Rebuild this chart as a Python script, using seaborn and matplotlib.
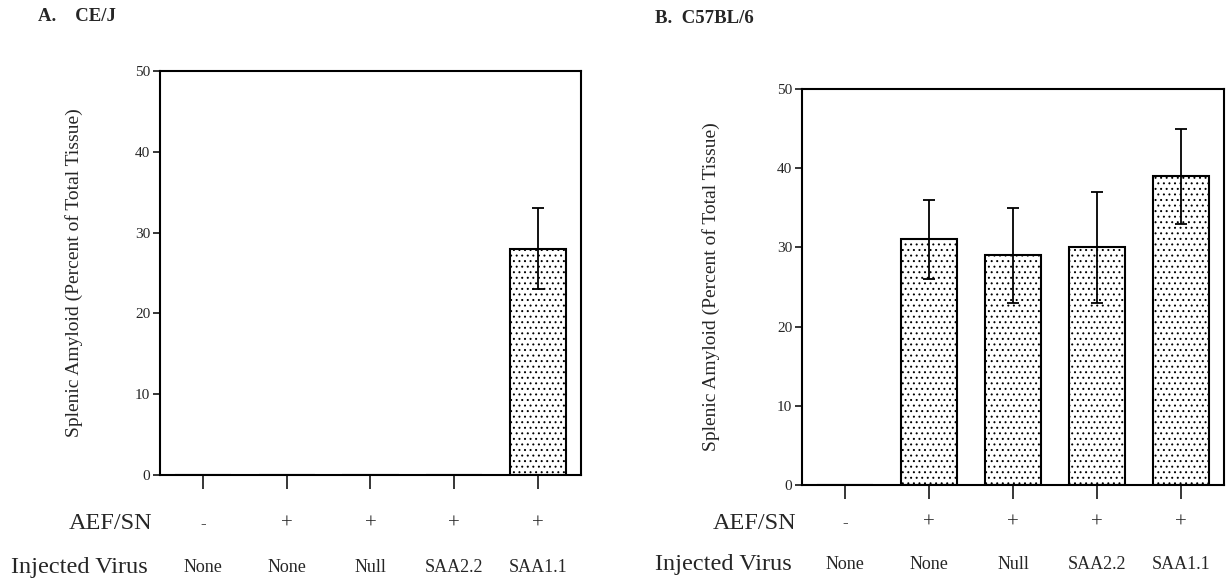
import numpy as np
import pandas as pd
import matplotlib
matplotlib.use("Agg")
import matplotlib.pyplot as plt
import matplotlib.transforms as mtrans
import seaborn as sns

# ── Data ─────────────────────────────────────────────────────
virus = ["None", "None", "Null", "SAA2.2", "SAA1.1"]
aef_sn = ["-", "+", "+", "+", "+"]

cej_mean = [0, 0, 0, 0, 28]
cej_err = [np.nan, np.nan, np.nan, np.nan, 5]

c57_mean = [0, 31, 29, 30, 39]
c57_err = [np.nan, 5, 6, 7, 6]

y_ticks = [0, 10, 20, 30, 40, 50]
y_label = "Splenic Amyloid (Percent of Total Tissue)"

# ── Style ────────────────────────────────────────────────────
sns.set_theme(style="ticks")
plt.rcParams["font.family"] = ["Liberation Serif", "DejaVu Serif"]
plt.rcParams["hatch.linewidth"] = 0.7
plt.rcParams["hatch.color"] = "black"

fig = plt.figure(figsize=(12.26, 5.80), dpi=100)

# axes rects in figure fraction (left, bottom, width, height)
ax_a = fig.add_axes([0.1305, 0.181, 0.3434, 0.6966])
ax_b = fig.add_axes([0.6542, 0.1638, 0.3442, 0.6828])


def draw_panel(ax, means, errs, aef_y, virus_y, label_x, ylab_x):
    df = pd.DataFrame({"group": np.arange(len(means)), "value": means})
    sns.barplot(data=df, x="group", y="value", width=0.67, color="white",
                edgecolor="black", linewidth=1.5, errorbar=None, ax=ax)
    for p in ax.patches:
        p.set_hatch("...")
        p.set_facecolor("white")

    x = np.arange(len(means))
    ax.errorbar(x, means, yerr=errs, fmt="none", ecolor="black",
                elinewidth=1.3, capsize=4.5, capthick=1.3, zorder=5)

    ax.set_xlim(-0.51, len(means) - 0.49)
    ax.set_ylim(0, 50)
    ax.set_yticks(y_ticks)
    ax.set_yticklabels([str(t) for t in y_ticks], fontsize=11)
    ax.set_xticks(x)
    ax.set_xticklabels([""] * len(x))
    ax.tick_params(axis="x", direction="out", length=10, width=1.3)
    ax.tick_params(axis="y", direction="out", length=5, width=1.3, pad=2)
    ax.set_xlabel("")
    ax.set_ylabel("")
    for s in ax.spines.values():
        s.set_visible(True)
        s.set_linewidth(1.5)
        s.set_color("black")

    trans = mtrans.blended_transform_factory(ax.transData, ax.transAxes)
    for xi, sign, name in zip(x, aef_sn, virus):
        ax.text(xi, aef_y, sign, transform=trans, ha="center", va="center",
                fontsize=15 if sign == "+" else 12)
        ax.text(xi, virus_y, name, transform=trans, ha="center",
                va="center", fontsize=13)

    ax.text(label_x, aef_y, "AEF/SN", transform=ax.transAxes, ha="right",
            va="center", fontsize=17.5)
    ax.text(label_x - 0.01, virus_y, "Injected Virus", transform=ax.transAxes,
            ha="right", va="center", fontsize=17.5)
    ax.text(ylab_x, 0.5, y_label, transform=ax.transAxes, rotation=90,
            ha="center", va="center", fontsize=14)


draw_panel(ax_a, cej_mean, cej_err, aef_y=-0.121, virus_y=-0.230,
           label_x=-0.019, ylab_x=-0.205)
draw_panel(ax_b, c57_mean, c57_err, aef_y=-0.096, virus_y=-0.202,
           label_x=-0.014, ylab_x=-0.215)

fig.text(0.031, 0.972, "A.    CE/J", fontsize=13.5, fontweight="bold",
         ha="left", va="center")
fig.text(0.534, 0.968, "B.  C57BL/6", fontsize=13.5, fontweight="bold",
         ha="left", va="center")

fig.savefig("out.png", dpi=100)
